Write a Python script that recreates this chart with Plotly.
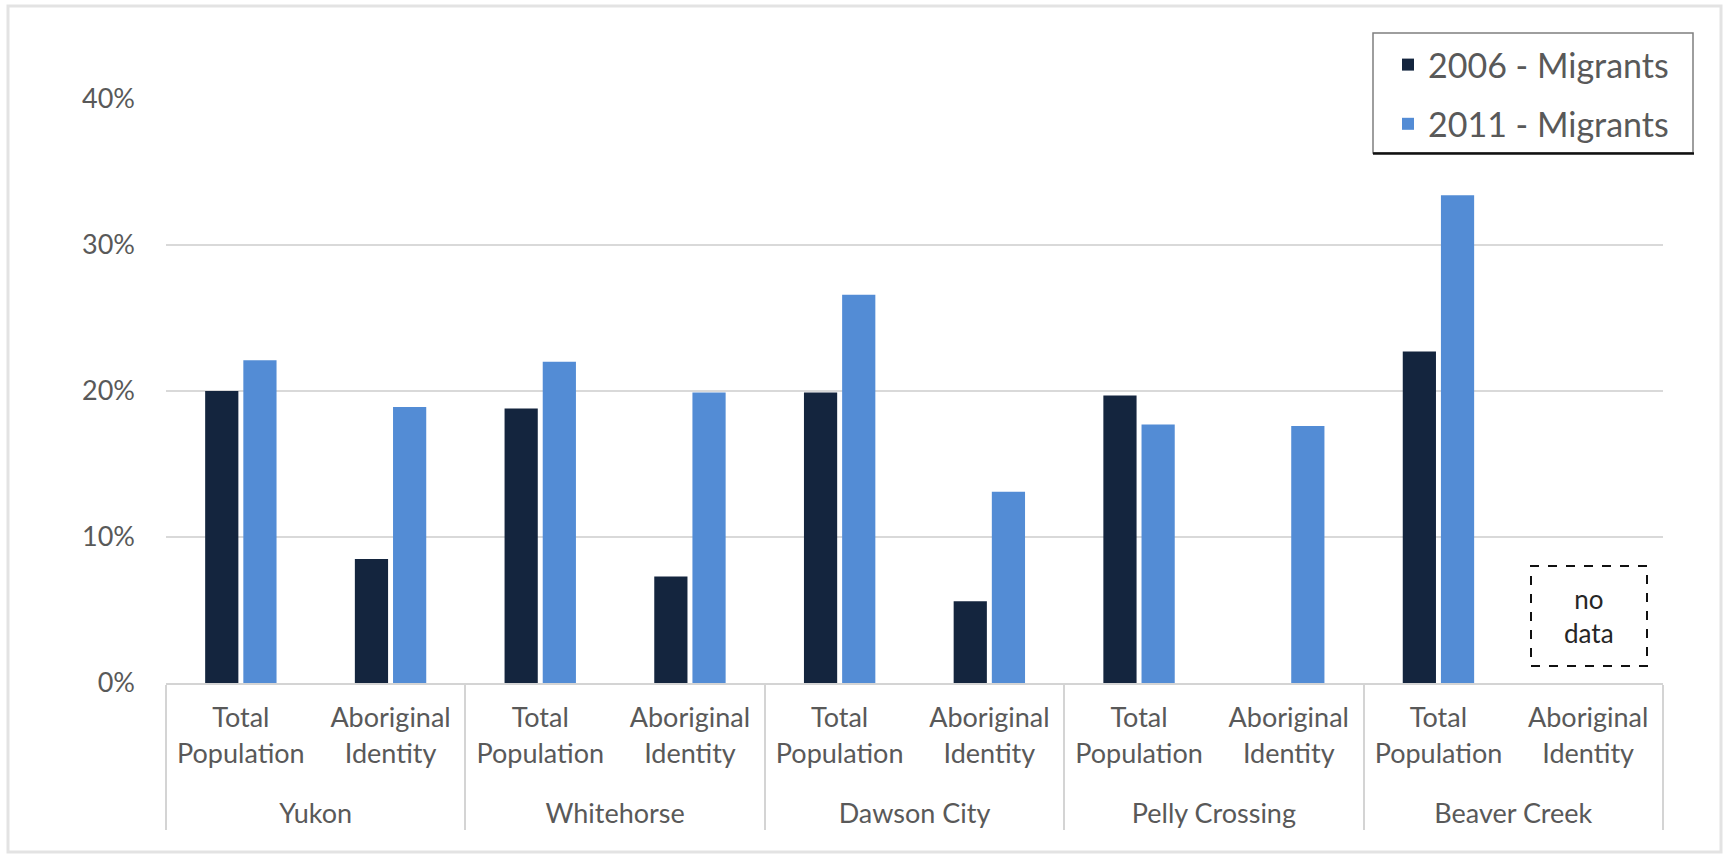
import plotly.graph_objects as go

# ---------------- data ----------------
regions = ["Yukon", "Yukon", "Whitehorse", "Whitehorse", "Dawson City", "Dawson City",
           "Pelly Crossing", "Pelly Crossing", "Beaver Creek", "Beaver Creek"]
populations = ["Total<br>Population", "Aboriginal<br>Identity"] * 5
migrants_2006 = [20.0, 8.5, 18.8, 7.3, 19.9, 5.6, 19.7, None, 22.7, None]
migrants_2011 = [22.1, 18.9, 22.0, 19.9, 26.6, 13.1, 17.7, 17.6, 33.4, None]
series_names = ["2006 - Migrants", "2011 - Migrants"]
y_ticks = [0, 10, 20, 30, 40]
y_tick_labels = ["0%", "10%", "20%", "30%", "40%"]

# ---------------- layout constants (pixels) ----------------
W, H = 1726, 858
PL, PR, PT, PB = 166, 1663, 99, 683          # plot area edges
FONT = "Lato"
GREY_TXT = "#595959"
DARK = "#14253E"
LIGHT = "#538CD5"


def px_x(x):
    return (x - PL) / (PR - PL)


def px_y(y):
    return (PB - y) / (PB - PT)


# outer (region) labels are pushed one line lower so they sit beneath the
# two-line inner labels
region_labels = ["<br>" + r for r in regions]

fig = go.Figure()
fig.add_trace(go.Bar(name=series_names[0], x=[region_labels, populations], y=migrants_2006,
                     marker=dict(color=DARK, line=dict(width=0)), legendgroup="a"))
fig.add_trace(go.Bar(name=series_names[1], x=[region_labels, populations], y=migrants_2011,
                     marker=dict(color=LIGHT, line=dict(width=0)), legendgroup="b"))

shapes = [
    # outer chart border
    dict(type="rect", xref="paper", yref="paper",
         x0=px_x(8), x1=px_x(1721), y0=px_y(852), y1=px_y(6),
         line=dict(color="#e3e3e3", width=3), fillcolor="rgba(0,0,0,0)", layer="below"),
    # legend box
    dict(type="rect", xref="paper", yref="paper",
         x0=px_x(1373), x1=px_x(1693), y0=px_y(153), y1=px_y(33),
         line=dict(color="#7f7f7f", width=1.5), fillcolor="white", layer="above"),
    dict(type="line", xref="paper", yref="paper",
         x0=px_x(1373), x1=px_x(1694), y0=px_y(153.5), y1=px_y(153.5),
         line=dict(color="#111111", width=2.5), layer="above"),
    # "no data" box
    dict(type="rect", xref="paper", yref="paper",
         x0=px_x(1531), x1=px_x(1647), y0=px_y(666), y1=px_y(566),
         line=dict(color="#111111", width=2, dash="dash"), fillcolor="rgba(0,0,0,0)"),
]

annotations = [
    dict(text="no<br>data", xref="paper", yref="paper",
         x=px_x(1589), y=px_y(616), xanchor="center", yanchor="middle",
         showarrow=False, font=dict(family=FONT, size=26, color="#262626")),
]

fig.update_layout(
    width=W, height=H,
    margin=dict(l=PL, r=W - PR, t=PT, b=H - PB, autoexpand=False),
    paper_bgcolor="white", plot_bgcolor="white",
    barmode="group", bargap=0.49, bargroupgap=0.13,
    font=dict(family=FONT, color=GREY_TXT),
    showlegend=True,
    legend=dict(x=px_x(1388), y=px_y(36), xanchor="left", yanchor="top",
                bgcolor="rgba(0,0,0,0)", borderwidth=0,
                font=dict(family=FONT, size=34, color=GREY_TXT),
                tracegroupgap=12, itemclick=False),
    shapes=shapes,
    annotations=annotations,
    xaxis=dict(type="multicategory", showgrid=False, zeroline=False,
               showline=True, linecolor="#d4d4d4", linewidth=2,
               showdividers=True, dividercolor="#d4d4d4", dividerwidth=2,
               tickfont=dict(family=FONT, size=27, color=GREY_TXT),
               ticks="", ticklabelstandoff=10),
    yaxis=dict(range=[0, 40], tickvals=y_ticks, ticktext=y_tick_labels,
               showgrid=True, gridcolor="#d9d9d9", gridwidth=2,
               zeroline=False, showline=False, ticks="",
               ticklabelstandoff=30,
               tickfont=dict(family=FONT, size=27, color=GREY_TXT)),
)

fig.write_html("out.html")
